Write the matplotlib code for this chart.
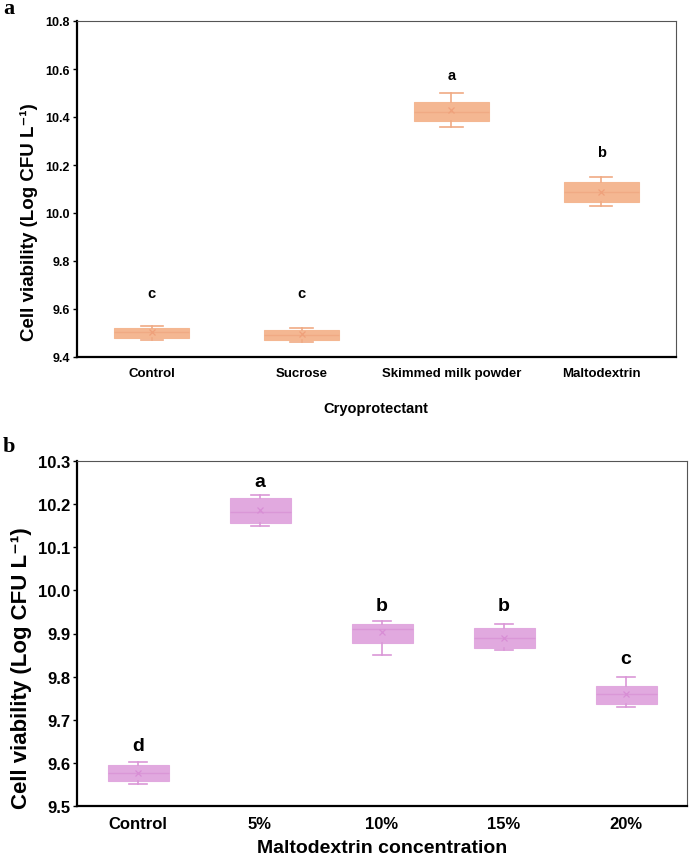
import matplotlib
matplotlib.use("Agg")
import matplotlib.pyplot as plt

plt.rcParams['font.family'] = ['Liberation Sans', 'DejaVu Sans']

# ---------------- Panel a data ----------------
cats_a = ["Control", "Sucrose", "Skimmed milk powder", "Maltodextrin"]
whislo_a = [9.470, 9.461, 10.357, 10.031]
q1_a = [9.481, 9.472, 10.385, 10.046]
med_a = [9.503, 9.492, 10.422, 10.089]
q3_a = [9.521, 9.512, 10.461, 10.128]
whishi_a = [9.531, 9.519, 10.500, 10.148]
mean_a = [9.503, 9.494, 10.428, 10.089]
letters_a = ["c", "c", "a", "b"]
letter_y_a = [9.665, 9.665, 10.574, 10.256]
yticks_a = [9.4, 9.6, 9.8, 10.0, 10.2, 10.4, 10.6, 10.8]

# ---------------- Panel b data ----------------
cats_b = ["Control", "5%", "10%", "15%", "20%"]
whislo_b = [9.551, 10.150, 9.850, 9.861, 9.730]
q1_b = [9.557, 10.156, 9.878, 9.866, 9.737]
med_b = [9.576, 10.182, 9.911, 9.890, 9.760]
q3_b = [9.594, 10.214, 9.923, 9.912, 9.779]
whishi_b = [9.601, 10.222, 9.929, 9.921, 9.800]
mean_b = [9.576, 10.186, 9.903, 9.890, 9.760]
letters_b = ["d", "a", "b", "b", "c"]
letter_y_b = [9.640, 10.252, 9.965, 9.965, 9.842]
yticks_b = [9.5, 9.6, 9.7, 9.8, 9.9, 10.0, 10.1, 10.2, 10.3]

YLABEL = "Cell viability (Log CFU L\u207b\u00b9)"

W, H = 689, 862
fig = plt.figure(figsize=(W / 100, H / 100), dpi=100)


def fx(px):
    return px / W


def fy(py):
    return 1 - py / H


def draw_panel(ax, cats, wlo, q1, med, q3, whi, mean, fill, edge, dark,
               tick_fs, xt_fs):
    stats = []
    for i, c in enumerate(cats):
        stats.append(dict(label=c, whislo=wlo[i], q1=q1[i], med=med[i],
                          q3=q3[i], whishi=whi[i], mean=mean[i], fliers=[]))
    pos = list(range(len(cats)))
    ax.bxp(stats, positions=pos, widths=0.5, capwidths=0.15,
           patch_artist=True, showmeans=True, showfliers=False,
           boxprops=dict(facecolor=fill, edgecolor=fill, linewidth=0.8),
           whiskerprops=dict(color=edge, linewidth=1.2),
           capprops=dict(color=edge, linewidth=1.2),
           medianprops=dict(color=edge, linewidth=1.0),
           meanprops=dict(marker='x', markeredgecolor=dark, markersize=5,
                          markeredgewidth=0.9))
    ax.set_xticks(pos)
    ax.set_xticklabels(cats, fontsize=xt_fs, fontweight='bold')
    ax.set_xlim(-0.5, len(cats) - 0.5)
    for s in ['left', 'bottom']:
        ax.spines[s].set_color('black')
        ax.spines[s].set_linewidth(1.6)
    for s in ['top', 'right']:
        ax.spines[s].set_color('#555555')
        ax.spines[s].set_linewidth(0.8)
    ax.tick_params(axis='x', length=0, pad=7)
    ax.tick_params(axis='y', direction='out', length=3, width=1, pad=2,
                   labelsize=tick_fs)


# ---------------- Panel a ----------------
axa = fig.add_axes([fx(77), fy(358), fx(676) - fx(77), fy(22) - fy(358)])
draw_panel(axa, cats_a, whislo_a, q1_a, med_a, q3_a, whishi_a, mean_a,
           '#F4B792', '#F0AA84', '#EFA07A', 9, 9.5)
axa.set_ylim(9.4, 10.8)
axa.set_yticks(yticks_a)
axa.set_yticklabels([f"{v:.1f}" for v in yticks_a], fontsize=9, fontweight='bold')
for i, (l, y) in enumerate(zip(letters_a, letter_y_a)):
    axa.text(i, y, l, ha='center', va='center', fontsize=10.5, fontweight='bold')
fig.text(fx(376), fy(409), "Cryoprotectant", ha='center', va='center',
         fontsize=10.5, fontweight='bold')
fig.text(fx(29), fy(222), YLABEL,
         rotation=90, ha='center', va='center', fontsize=13.5, fontweight='bold')
fig.text(fx(3), fy(9), "a", ha='left', va='center', fontsize=16,
         fontweight='bold', family=['Liberation Serif', 'DejaVu Serif'])

# ---------------- Panel b ----------------
axb = fig.add_axes([fx(77), fy(807), fx(687) - fx(77), fy(462) - fy(807)])
draw_panel(axb, cats_b, whislo_b, q1_b, med_b, q3_b, whishi_b, mean_b,
           '#E1A9DF', '#DA97D7', '#D88DD5', 12, 12)
axb.set_ylim(9.5, 10.3)
axb.set_yticks(yticks_b)
axb.set_yticklabels([f"{v:.1f}" for v in yticks_b], fontsize=12, fontweight='bold')
for i, (l, y) in enumerate(zip(letters_b, letter_y_b)):
    axb.text(i, y, l, ha='center', va='center', fontsize=14, fontweight='bold')
fig.text((fx(77) + fx(687)) / 2, fy(849), "Maltodextrin concentration",
         ha='center', va='center', fontsize=14, fontweight='bold')
fig.text(fx(22), fy(668), YLABEL,
         rotation=90, ha='center', va='center', fontsize=16, fontweight='bold')
fig.text(fx(3), fy(447), "b", ha='left', va='center', fontsize=16,
         fontweight='bold', family=['Liberation Serif', 'DejaVu Serif'])

fig.savefig("out.png", dpi=100)
